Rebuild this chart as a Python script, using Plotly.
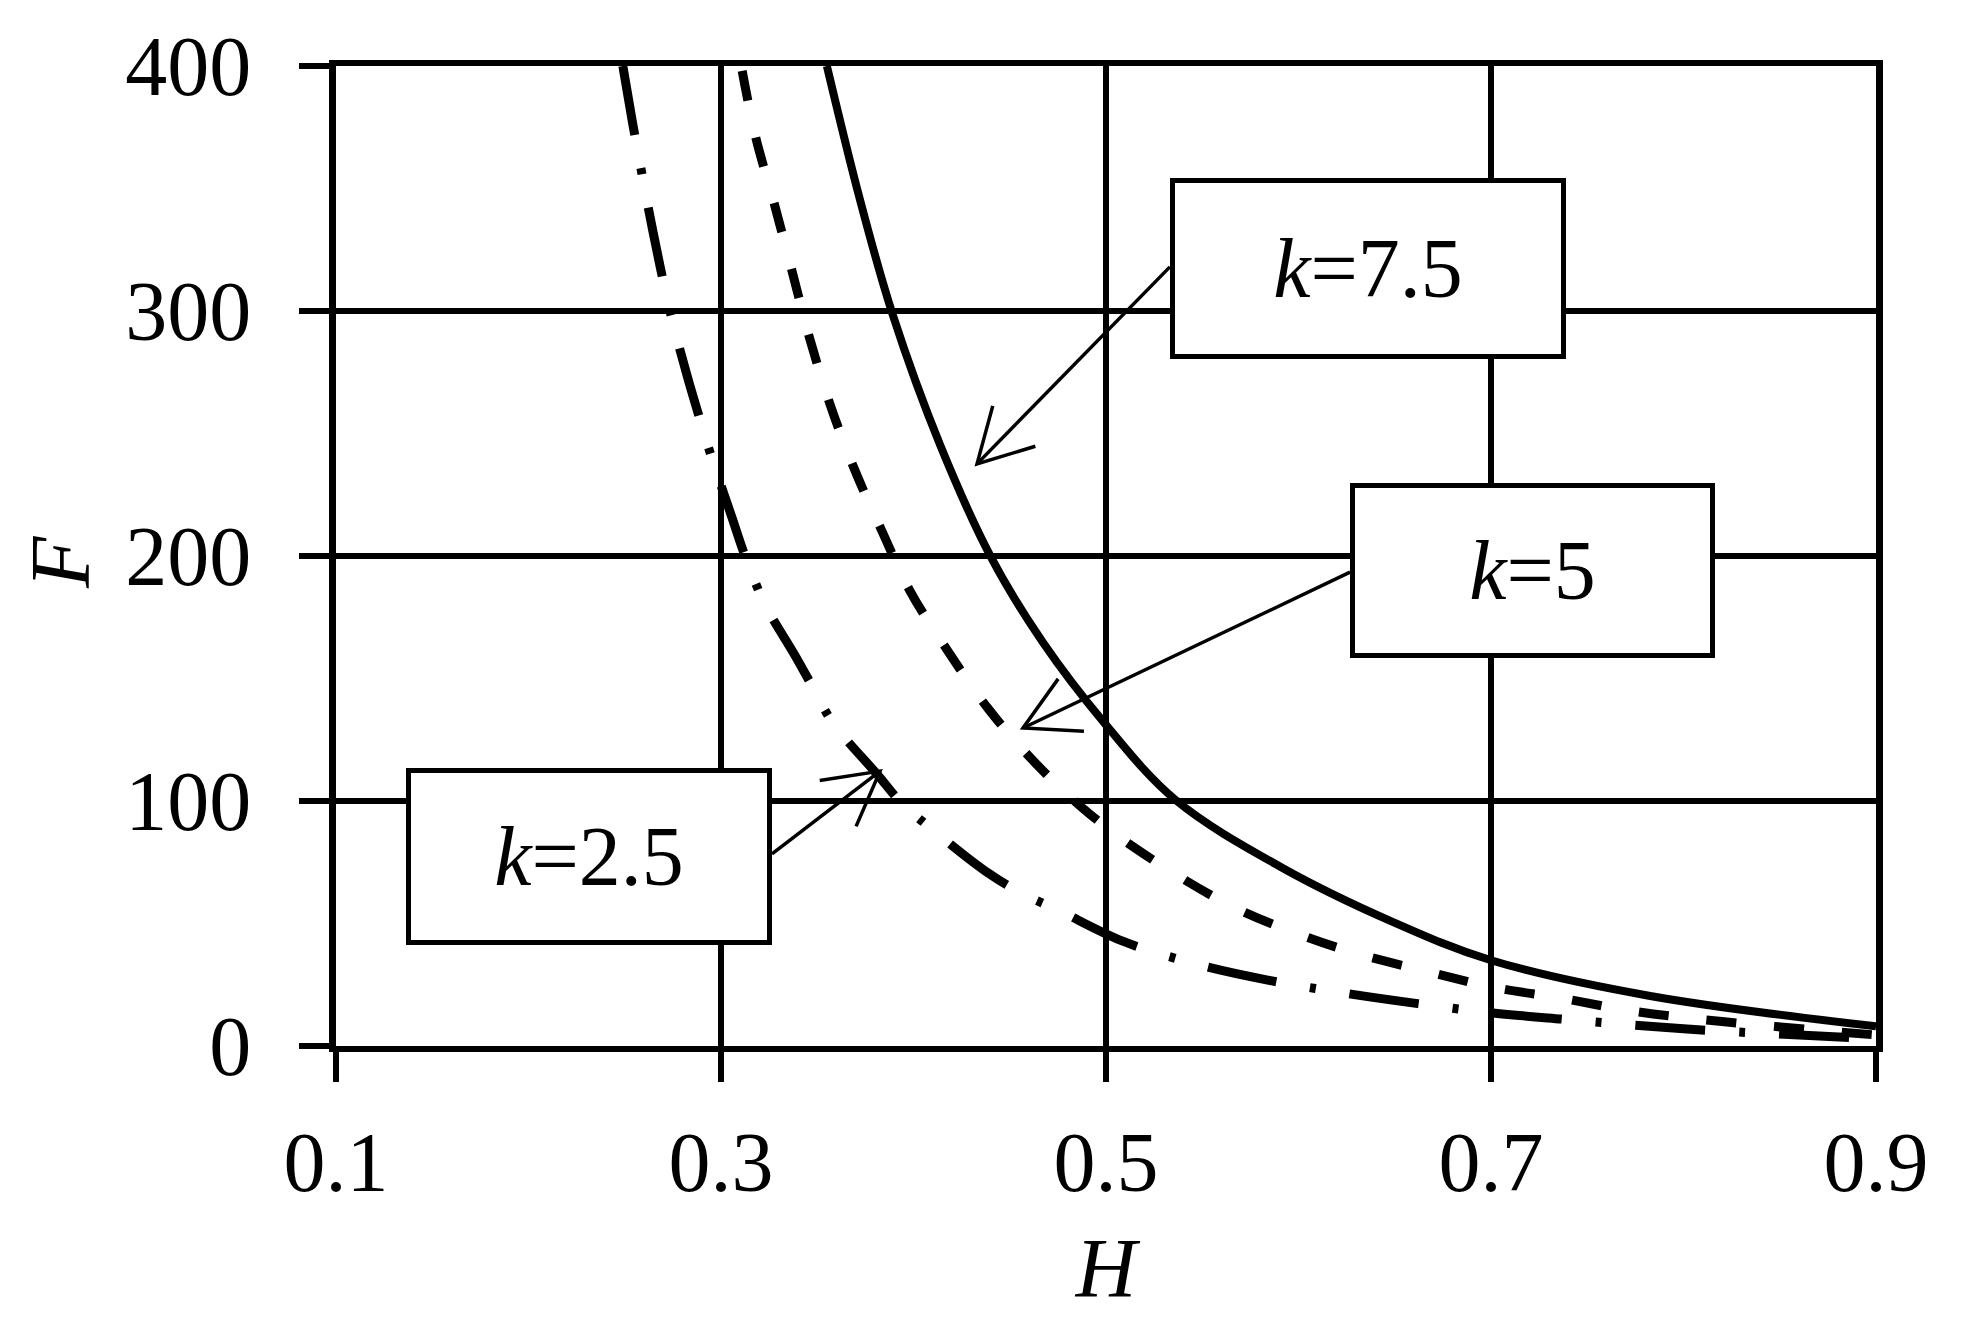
import math
import plotly.graph_objects as go

# ---- data ----
H_k75 = [0.355, 0.372, 0.389, 0.414, 0.4406, 0.467, 0.499, 0.536, 0.591, 0.648,
         0.700, 0.782, 0.900]
F_k75 = [400, 346, 299, 245, 199, 165, 132, 100.5, 73, 51,
         35, 20.5, 8]

H_k5 = [0.311, 0.318, 0.3276, 0.337, 0.346, 0.3566, 0.369, 0.3837, 0.398, 0.418,
        0.439, 0.462, 0.488, 0.5166, 0.563, 0.597, 0.630, 0.666, 0.701, 0.736,
        0.773, 0.820, 0.900]
F_k5 = [398, 371, 344, 316, 289, 262, 236, 210, 186, 161,
        137.5, 116.6, 97, 80, 58, 46.6, 37.8, 30.6, 24, 19.6,
        14.3, 10, 4.5]

H_k25 = [0.249, 0.254, 0.2575, 0.2645, 0.2735, 0.2826, 0.2886, 0.294, 0.306, 0.3125,
         0.323, 0.338, 0.348, 0.358, 0.381, 0.394, 0.411, 0.439, 0.457, 0.475,
         0.508, 0.547, 0.584, 0.623, 0.662, 0.701, 0.738, 0.800, 0.900]
F_k25 = [400, 377, 362, 333, 300, 273, 257, 243, 215, 200,
         180, 160, 146, 132, 111, 99, 87.6, 70.5, 62, 55.5,
         43, 33.4, 26.9, 21.7, 17.3, 13.5, 10.9, 7, 3]

x_ticks = [0.1, 0.3, 0.5, 0.7, 0.9]
y_ticks = [0, 100, 200, 300, 400]

labels = ["<i>k</i>=7.5", "<i>k</i>=5", "<i>k</i>=2.5"]
# label box centres (data coords), arrow tails and tips
box_x = [0.636, 0.7216, 0.2314]
box_y = [317.4, 194.0, 77.4]
box_w = [396, 365, 366]
box_h = [181, 175, 177]
tail_x = [0.5332, 0.6268, 0.3265]
tail_y = [318.0, 193.4, 78.4]
tip_x = [0.433, 0.4569, 0.3826]
tip_y = [237.6, 129.8, 112.2]

FONT = "Liberation Serif, Times New Roman, serif"
FS = 84

W, H = 1952, 1320
ML, MR, MT, MB = 328, 84, 43, 282
X_RANGE = [0.1, 0.9]
Y_RANGE = [0, 400]
plot_w = W - ML - MR
plot_h = H - MT - MB
PX_X = plot_w / (X_RANGE[1] - X_RANGE[0])
PX_Y = plot_h / (Y_RANGE[1] - Y_RANGE[0])

fig = go.Figure()
fig.add_trace(go.Scatter(x=H_k75, y=F_k75, mode="lines", name="k=7.5",
                         line=dict(color="black", width=8, shape="spline", smoothing=1.0)))
fig.add_trace(go.Scatter(x=H_k5, y=F_k5, mode="lines", name="k=5",
                         line=dict(color="black", width=9, dash="30px,38px",
                                   shape="spline", smoothing=1.0)))
fig.add_trace(go.Scatter(x=H_k25, y=F_k25, mode="lines", name="k=2.5",
                         line=dict(color="black", width=9, dash="70px,34px,6px,34px",
                                   shape="spline", smoothing=1.0)))

# arrows: shaft + open V head (head geometry in pixels)
shapes = []
HEAD_LEN = 61
HEAD_ANG = math.radians(29)
for i in range(3):
    shapes.append(dict(type="line", xref="x", yref="y",
                       x0=tail_x[i], y0=tail_y[i], x1=tip_x[i], y1=tip_y[i],
                       line=dict(color="black", width=3.5), layer="above"))
    dx = (tail_x[i] - tip_x[i]) * PX_X
    dy = (tail_y[i] - tip_y[i]) * PX_Y
    ang = math.atan2(dy, dx)
    pts = []
    for s in (1, -1):
        a = ang + s * HEAD_ANG
        pts.append((tip_x[i] + HEAD_LEN * math.cos(a) / PX_X,
                    tip_y[i] + HEAD_LEN * math.sin(a) / PX_Y))
    path = (f"M {pts[0][0]},{pts[0][1]} L {tip_x[i]},{tip_y[i]} "
            f"L {pts[1][0]},{pts[1][1]}")
    shapes.append(dict(type="path", xref="x", yref="y", path=path,
                       line=dict(color="black", width=3.5), layer="above"))

annotations = []
for i in range(3):
    annotations.append(dict(
        x=box_x[i], y=box_y[i], xref="x", yref="y",
        text=labels[i], showarrow=False,
        font=dict(family=FONT, size=FS, color="black"),
        bgcolor="white", bordercolor="black", borderwidth=5, borderpad=0,
        width=box_w[i] - 10, height=box_h[i] - 10,
        xanchor="center", yanchor="middle", align="center", valign="middle",
    ))
# y-axis title placed as rotated text left of the tick labels
annotations.append(dict(
    x=0, y=0.5, xref="paper", yref="paper", text="<i>F</i>", showarrow=False,
    textangle=-90, font=dict(family=FONT, size=FS, color="black"),
    xanchor="center", yanchor="middle", xshift=-276, yshift=-6, borderpad=0,
))

fig.update_layout(
    width=W, height=H,
    margin=dict(l=ML, r=MR, t=MT, b=MB),
    paper_bgcolor="white", plot_bgcolor="white",
    showlegend=False,
    font=dict(family=FONT, size=FS, color="black"),
    annotations=annotations,
    shapes=shapes,
)
fig.update_xaxes(
    range=X_RANGE, tickvals=x_ticks, ticktext=[f"{v:.1f}" for v in x_ticks],
    showgrid=True, gridcolor="black", gridwidth=6,
    showline=True, linecolor="black", linewidth=6, mirror=True,
    ticks="outside", ticklen=30, tickwidth=6, tickcolor="black",
    ticklabelstandoff=8, ticklabeloverflow="allow", zeroline=False,
    title=dict(text="<i>H</i>", font=dict(family=FONT, size=FS), standoff=32),
)
fig.update_yaxes(
    range=Y_RANGE, tickvals=y_ticks,
    showgrid=True, gridcolor="black", gridwidth=6,
    showline=True, linecolor="black", linewidth=7, mirror=True,
    ticks="outside", ticklen=30, tickwidth=6, tickcolor="black",
    ticklabelstandoff=31, ticklabeloverflow="allow", zeroline=False,
)

fig.write_html("out.html")
